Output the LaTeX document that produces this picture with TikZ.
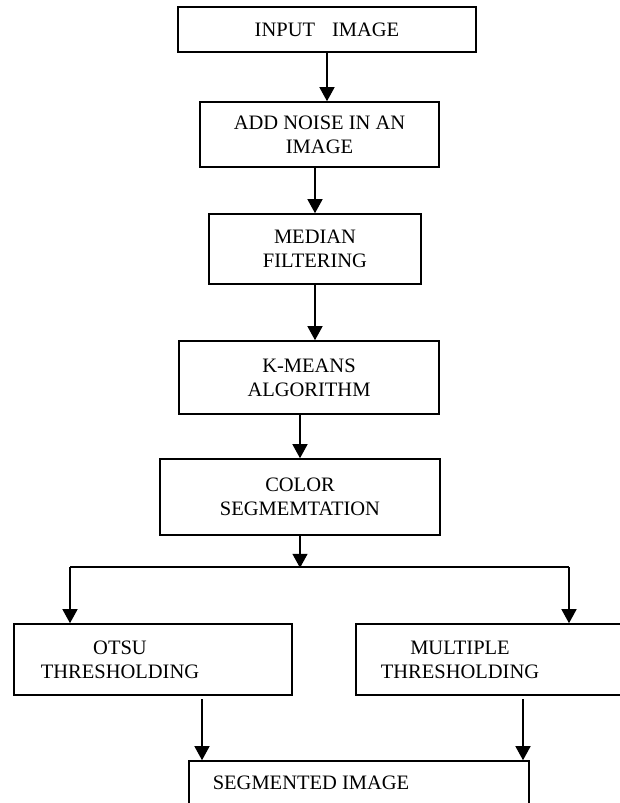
\documentclass[tikz,border=0pt]{standalone}
\usepackage{fontspec}
\setmainfont{Liberation Serif}
\usetikzlibrary{arrows.meta}
\begin{document}
\begin{tikzpicture}[x=1pt,y=-1pt,
    box/.style={draw,line width=1.6pt,inner sep=0pt,align=center,font=\fontsize{20.5}{24}\selectfont},
    lbl/.style={inner sep=0pt,align=center,font=\fontsize{20.5}{24}\selectfont},
    arr/.style={line width=1.4pt,-{Triangle[length=14pt,width=15pt]}}]
    \useasboundingbox (0,0) rectangle (619,803);
    \node[box,minimum width=298,minimum height=45] (input) at (327,29.5) {INPUT\hspace{17pt}IMAGE};
    \node[box,minimum width=239,minimum height=65] (noise) at (319.5,134.5) {ADD NOISE IN AN\\IMAGE};
    \node[box,minimum width=212,minimum height=70] (median) at (315,249) {MEDIAN\\FILTERING};
    \node[box,minimum width=260,minimum height=73] (kmeans) at (309,377.5) {K-MEANS\\ALGORITHM};
    \node[box,minimum width=280,minimum height=76] (color) at (300,497) {COLOR\\SEGMEMTATION};
    \node[box,minimum width=278,minimum height=71] (otsu) at (153,659.5) {};
    \node[lbl] (otsutxt) at (120,660) {OTSU\\THRESHOLDING};
    \node[box,minimum width=269,minimum height=71] (multi) at (490.5,659.5) {};
    \node[lbl] (multitxt) at (460,660) {MULTIPLE\\THRESHOLDING};
    \node[box,minimum width=340,minimum height=54] (segimg) at (359,788) {};
    \node[lbl] (segtxt) at (311,783) {SEGMENTED IMAGE};
    % main line
    \draw[arr] (input.south) -- (input.south |- noise.north);
    \draw[arr] (median.north |- noise.south) -- (median.north);
    \draw[arr] (median.south) -- (median.south |- kmeans.north);
    \draw[arr] (color.north |- kmeans.south) -- (color.north);
    % split
    \path (color.south) ++(0,32) coordinate (fork);
    \path (70,567) coordinate (forkl) (569,567) coordinate (forkr);
    \draw[arr] (color.south) -- (fork);
    \draw[line width=1.4pt] (forkl) -- (forkr);
    \draw[arr] (forkl) -- (forkl |- otsu.north);
    \draw[arr] (forkr) -- (forkr |- multi.north);
    % join
    \path (202,699) coordinate (o1) (523,699) coordinate (m1);
    \foreach \c in {o1,m1}
    \draw[arr] (\c) -- (\c |- segimg.north);
\end{tikzpicture}
\end{document}
